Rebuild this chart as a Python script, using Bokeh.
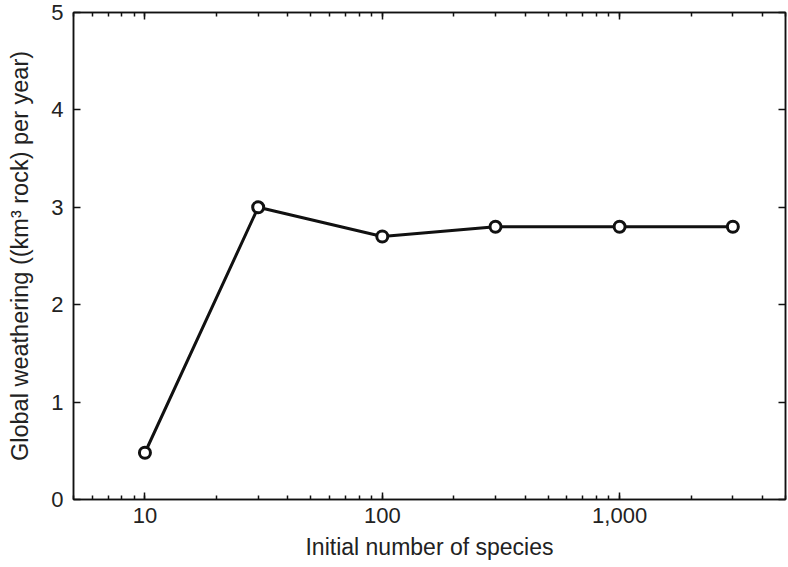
from bokeh.plotting import figure
from bokeh.models import (LogAxis, LinearAxis, LogTicker, FixedTicker,
                          NumeralTickFormatter, Range1d, CustomLabelingPolicy)
from bokeh.embed import file_html
from bokeh.resources import INLINE

# Data
species = [10, 30, 100, 300, 1000, 3000]
weathering = [0.48, 3.0, 2.7, 2.8, 2.8, 2.8]
y_ticks = [0, 1, 2, 3, 4, 5]
x_label = "Initial number of species"
y_label = "Global weathering ((km\u00b3 rock) per year)"

FONT = "Liberation Sans"
TEXT = "#222222"
INK = "#111111"

p = figure(width=788, height=567, x_axis_type="log",
           x_range=Range1d(5, 5000), y_range=Range1d(0, 5),
           output_backend="svg", toolbar_location=None,
           min_border_left=73, min_border_right=3,
           min_border_top=12, min_border_bottom=68)

p.grid.visible = False
p.background_fill_color = "white"
p.border_fill_color = "white"
p.outline_line_color = INK
p.outline_line_width = 1.5

xt = LogTicker(num_minor_ticks=10)
yt = FixedTicker(ticks=y_ticks)

hide_labels = CustomLabelingPolicy(code="""
try { for (const i of Array.from(indices)) { indices.unset(i) } } catch (e) {}
return indices
""")

def style_common(ax, labels):
    ax.axis_line_color = INK
    ax.axis_line_width = 1.5
    ax.major_tick_in = 7
    ax.major_tick_out = 0
    ax.major_tick_line_color = INK
    ax.major_tick_line_width = 1.5
    if labels:
        ax.major_label_text_font = FONT
        ax.major_label_text_font_size = "22px"
        ax.major_label_text_color = TEXT
    else:
        ax.major_label_text_font_size = "0px"
        ax.major_label_standoff = 0
        ax.major_label_policy = hide_labels

def style_x(ax, labels=True):
    ax.ticker = xt
    ax.formatter = NumeralTickFormatter(format="0,0")
    ax.minor_tick_in = 4
    ax.minor_tick_out = 0
    ax.minor_tick_line_color = INK
    ax.minor_tick_line_width = 1.5
    style_common(ax, labels)
    if labels:
        ax.major_label_standoff = 8

def style_y(ax, labels=True):
    ax.ticker = yt
    ax.minor_tick_line_color = None
    style_common(ax, labels)
    if labels:
        ax.major_label_standoff = 10

xa = p.xaxis[0]
style_x(xa)
xa.axis_label = x_label
xa.axis_label_text_font = FONT
xa.axis_label_text_font_size = "23px"
xa.axis_label_text_font_style = "normal"
xa.axis_label_text_color = TEXT
xa.axis_label_standoff = 8

ya = p.yaxis[0]
style_y(ya)
ya.axis_label = y_label
ya.axis_label_text_font = FONT
ya.axis_label_text_font_size = "23.5px"
ya.axis_label_text_font_style = "normal"
ya.axis_label_text_color = TEXT
ya.axis_label_standoff = 15

top = LogAxis()
style_x(top, labels=False)
p.add_layout(top, "above")

right = LinearAxis()
style_y(right, labels=False)
p.add_layout(right, "right")

p.line(species, weathering, line_color=INK, line_width=3)
p.scatter(species, weathering, marker="circle", size=11,
          fill_color="white", line_color=INK, line_width=3)

open("out.html", "w").write(file_html(p, INLINE))
